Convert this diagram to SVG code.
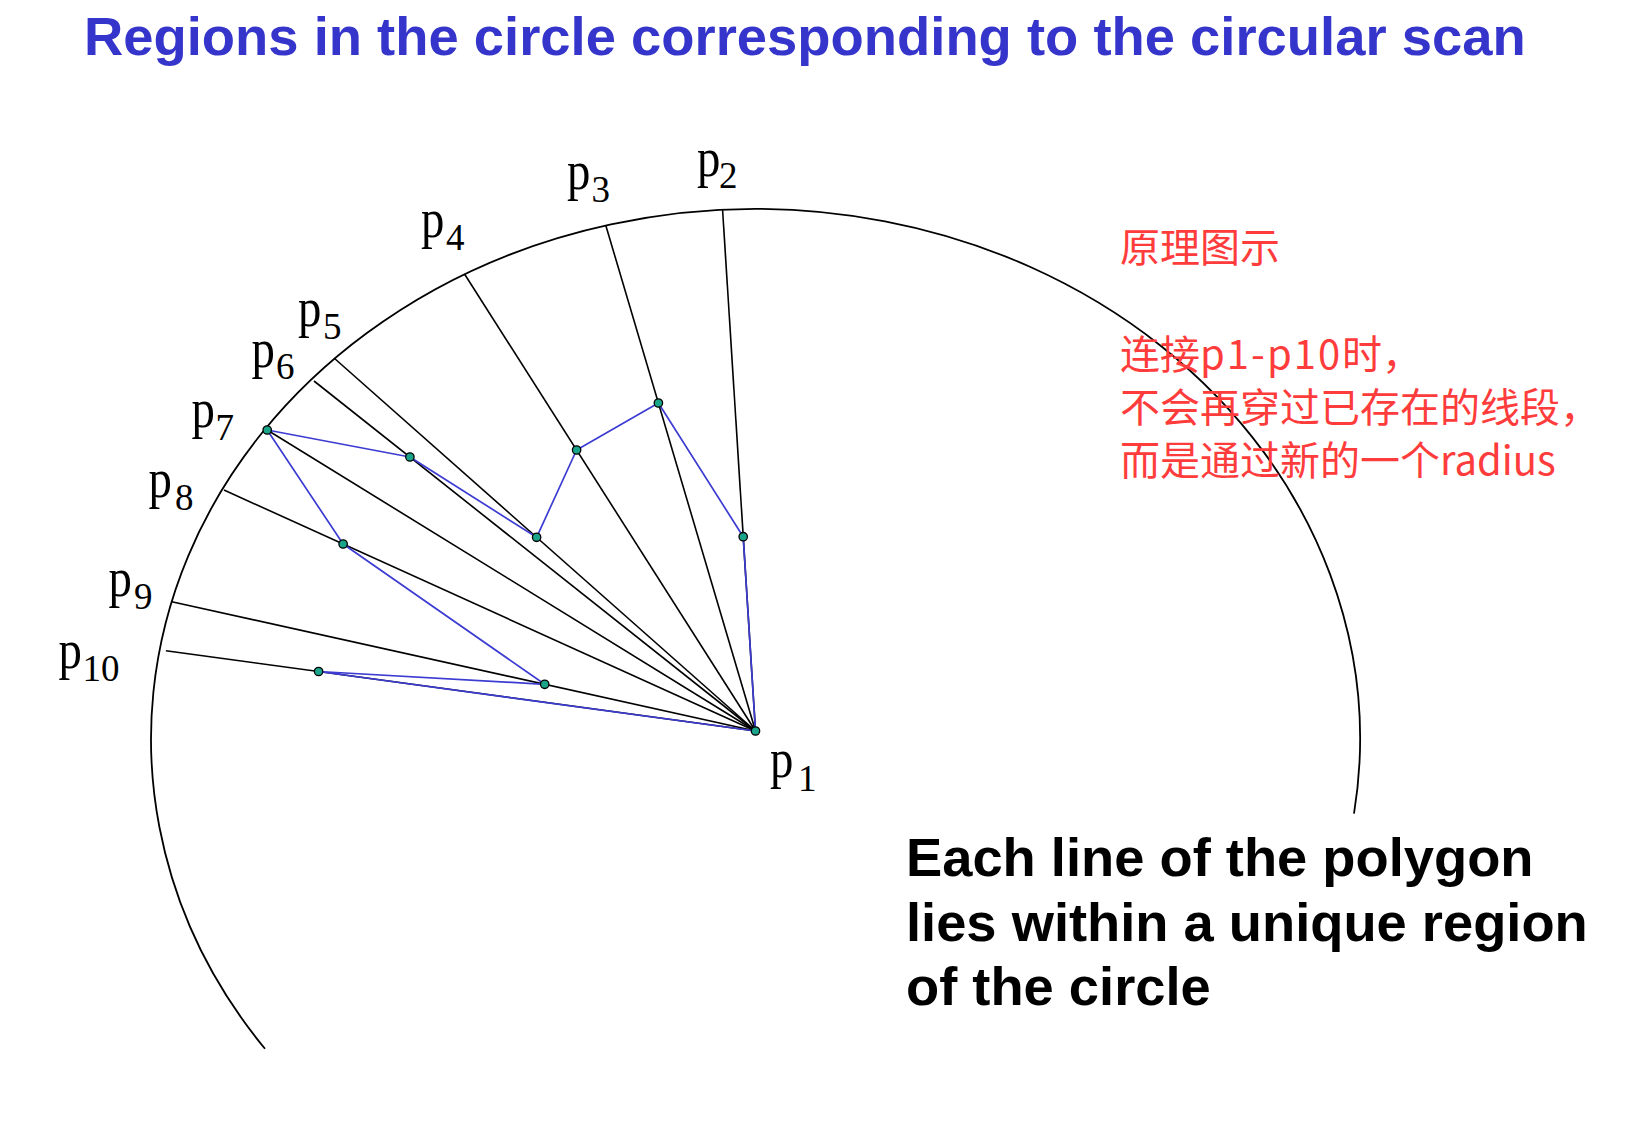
<svg xmlns="http://www.w3.org/2000/svg" width="1643" height="1128" viewBox="0 0 1643 1128">
<style>
.title{font-family:"Liberation Sans",Arial,sans-serif;font-weight:bold;font-size:54.4px;fill:#3535cc}
.note{font-family:"Liberation Sans",Arial,sans-serif;font-weight:bold;font-size:54.3px;fill:#000}
.cn{font-family:"Noto Sans CJK SC","Noto Sans",sans-serif;font-size:40px;fill:#ff3c3c}
.lp{font-family:"Liberation Serif","Times New Roman",serif;font-size:55px;fill:#000}
.ls{font-family:"Liberation Serif","Times New Roman",serif;font-size:37px;fill:#000}
.arc{fill:none;stroke:#000;stroke-width:1.8}
.rad{stroke:#000;stroke-width:1.6;fill:none}
.poly{fill:none;stroke:#3c3cd2;stroke-width:1.7;stroke-linejoin:round}
.dot{fill:#1aa58a;stroke:#000;stroke-width:1.3}
</style>
<rect width="1643" height="1128" fill="#fff"/>
<g id="title"><text class="title" x="84" y="55">Regions in the circle corresponding to the circular scan</text></g>
<g id="circle"><path class="arc" d="M 265 1048.8 A 604.5 530 0 1 1 1354 813.6"/></g>
<g id="connectors">
<line class="rad" x1="755.5" y1="731" x2="722.6" y2="210"/>
<line class="rad" x1="755.5" y1="731" x2="605.9" y2="225.7"/>
<line class="rad" x1="755.5" y1="731" x2="464.5" y2="274"/>
<line class="rad" x1="755.5" y1="731" x2="334" y2="358"/>
<line class="rad" x1="755.5" y1="731" x2="314" y2="381"/>
<line class="rad" x1="755.5" y1="731" x2="267.2" y2="430"/>
<line class="rad" x1="755.5" y1="731" x2="224" y2="490"/>
<line class="rad" x1="755.5" y1="731" x2="171.8" y2="601.7"/>
<line class="rad" x1="755.5" y1="731" x2="165.9" y2="650.7"/>
<polygon class="poly" points="755.5,731 743.2,536.7 658.4,403 576.6,450 536.6,537.3 409.9,457 267.2,430 343.1,544 544.7,684.3 318.6,671.5"/>
</g>
<g id="points">
<circle class="dot" cx="755.5" cy="731" r="4.2"/>
<circle class="dot" cx="743.2" cy="536.7" r="4.2"/>
<circle class="dot" cx="658.4" cy="403" r="4.2"/>
<circle class="dot" cx="576.6" cy="450" r="4.2"/>
<circle class="dot" cx="536.6" cy="537.3" r="4.2"/>
<circle class="dot" cx="409.9" cy="457" r="4.2"/>
<circle class="dot" cx="267.2" cy="430" r="4.2"/>
<circle class="dot" cx="343.1" cy="544" r="4.2"/>
<circle class="dot" cx="544.7" cy="684.3" r="4.2"/>
<circle class="dot" cx="318.6" cy="671.5" r="4.2"/>
</g>
<g id="label-p1"><text class="lp" transform="translate(770 777) scale(0.85 1)">p</text><text class="ls" x="798" y="791">1</text></g>
<g id="label-p2"><text class="lp" transform="translate(697 175.5) scale(0.85 1)">p</text><text class="ls" x="719" y="187.5">2</text></g>
<g id="label-p3"><text class="lp" transform="translate(567 188.5) scale(0.85 1)">p</text><text class="ls" x="591.5" y="201.5">3</text></g>
<g id="label-p4"><text class="lp" transform="translate(421 237) scale(0.85 1)">p</text><text class="ls" x="446" y="250">4</text></g>
<g id="label-p5"><text class="lp" transform="translate(298 325.5) scale(0.85 1)">p</text><text class="ls" x="323" y="338.5">5</text></g>
<g id="label-p6"><text class="lp" transform="translate(251.5 366.5) scale(0.85 1)">p</text><text class="ls" x="276" y="379">6</text></g>
<g id="label-p7"><text class="lp" transform="translate(191.5 426.5) scale(0.85 1)">p</text><text class="ls" x="215.5" y="439.5">7</text></g>
<g id="label-p8"><text class="lp" transform="translate(148.5 497) scale(0.85 1)">p</text><text class="ls" x="175" y="510">8</text></g>
<g id="label-p9"><text class="lp" transform="translate(108.5 595.5) scale(0.85 1)">p</text><text class="ls" x="134" y="608.5">9</text></g>
<g id="label-p10"><text class="lp" transform="translate(58.5 667.5) scale(0.85 1)">p</text><text class="ls" x="82.5" y="680.5">10</text></g>
<g id="note-cn">
<text class="cn" x="1120" y="262">原理图示</text>
<text class="cn" x="1120" y="368.5">连接<tspan letter-spacing="2">p1-p10</tspan>时，</text>
<text class="cn" x="1120" y="421.5">不会再穿过已存在的线段，</text>
<text class="cn" x="1120" y="475">而是通过新的一个radius</text>
</g>
<g id="note-en">
<text class="note" x="906" y="876">Each line of the polygon</text>
<text class="note" x="906" y="940.5">lies within a unique region</text>
<text class="note" x="906" y="1005">of the circle</text>
</g>
</svg>
